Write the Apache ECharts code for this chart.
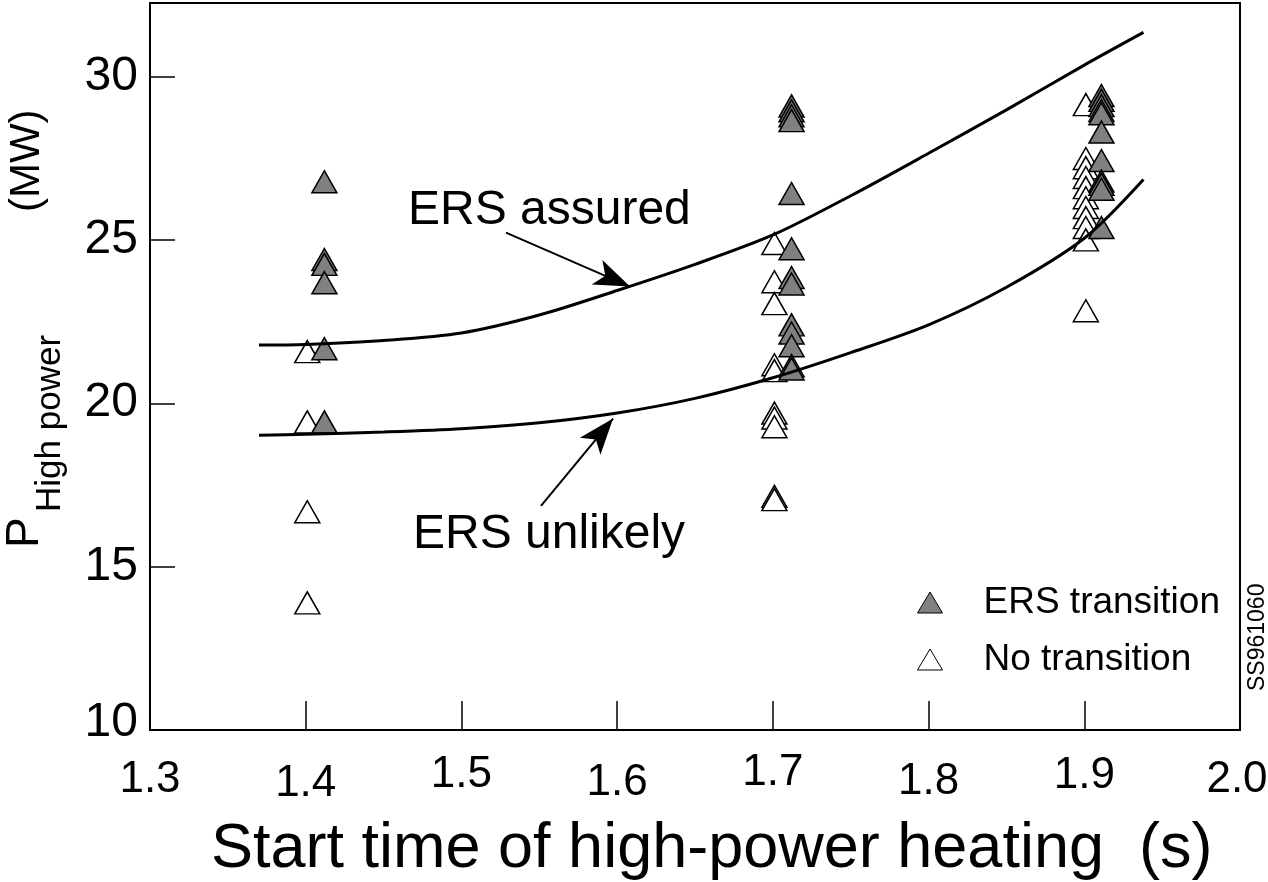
<!DOCTYPE html>
<html>
<head>
<meta charset="utf-8">
<script src="https://cdn.jsdelivr.net/npm/echarts@6/dist/echarts.min.js"></script>
<style>
html,body{margin:0;padding:0;background:#fff;}
#c{width:1268px;height:882px;}
</style>
</head>
<body>
<div id="c"></div>
<script>
// ---- data ----
const xTicks = [1.3, 1.4, 1.5, 1.6, 1.7, 1.8, 1.9, 2.0];
const yTicks = [10, 15, 20, 25, 30];

// ERS transition (filled triangles): [start time, power]
const transitionX = [1.412,1.412,1.412,1.412,1.412,1.412,
  1.712,1.712,1.712,1.712,1.712,1.712,1.712,1.712,1.712,1.712,1.712,1.712,1.712,
  1.911,1.911,1.911,1.911,1.911,1.911,1.911,1.911,1.911,1.911,1.911];
const transitionY = [26.78,24.40,24.25,23.69,21.67,19.43,
  29.1,28.95,28.8,28.65,26.42,24.73,23.85,23.65,22.4,22.15,21.76,21.15,21.05,
  29.42,29.27,29.11,28.96,28.86,28.3,27.43,26.8,26.7,26.55,25.38];

// No transition (open triangles)
const noTransX = [1.401,1.401,1.401,1.401,
  1.701,1.701,1.701,1.701,1.701,1.701,1.701,1.701,1.701,1.701,
  1.901,1.901,1.901,1.901,1.901,1.901,1.901,1.901,1.901,1.901,1.901];
const noTransY = [21.58,19.43,16.68,13.89,
  24.89,23.72,23.05,21.18,21.0,19.7,19.55,19.28,17.15,17.05,
  29.14,27.49,27.21,26.91,26.6,26.29,25.99,25.68,25.38,25.0,22.83];

// boundary curves
const curveX = [1.37, 1.40, 1.45, 1.50, 1.55, 1.60, 1.65, 1.70, 1.75, 1.80, 1.85, 1.90, 1.938];
const assuredY = [21.78, 21.80, 21.92, 22.15, 22.70, 23.45, 24.25, 25.15, 26.35, 27.65, 28.98, 30.35, 31.35];
const unlikelyY = [19.02, 19.05, 19.12, 19.22, 19.40, 19.70, 20.15, 20.78, 21.55, 22.40, 23.55, 25.05, 26.85];

// annotation arrows (data coords): [fromX, fromY, toX, toY]
const assuredArrow = [1.5286, 25.22, 1.6083, 23.57];
const unlikelyArrow = [1.5511, 16.86, 1.5974, 19.53];

const zip = (a, b) => a.map((v, i) => [v, b[i]]);

const FONT = 'Liberation Sans, Arial, Helvetica, sans-serif';
const chart = echarts.init(document.getElementById('c'), null, {renderer: 'canvas'});

// slight vertical jitter of the printed x tick labels (as typeset in the original)
const xLabelDrop = [8, 12, 3, 11, 1, 10, 4, 8];
const xRich = {};
xLabelDrop.forEach((d, i) => {
  xRich['t' + i] = {fontSize: 44, fontFamily: FONT, color: '#000', padding: [d, i === xLabelDrop.length - 1 ? 6 : 0, 0, 0]};
});

const arrowLine = (arr) => ({
  silent: true,
  symbol: ['none', 'arrow'],
  symbolSize: [20, 36],
  label: {show: false},
  lineStyle: {color: '#000', width: 2, type: 'solid'},
  data: [[{coord: [arr[0], arr[1]]}, {coord: [arr[2], arr[3]]}]]
});

chart.setOption({
  animation: false,
  backgroundColor: '#fff',
  grid: {left: 150, right: 28, top: 3, bottom: 152, containLabel: false, outerBoundsMode: 'none',
    show: true, borderColor: '#000', borderWidth: 2, backgroundColor: 'transparent'},
  xAxis: {
    type: 'value', min: xTicks[0], max: xTicks[xTicks.length - 1], interval: 0.1,
    axisLine: {show: true, lineStyle: {color: '#000', width: 2}},
    axisTick: {show: true, inside: true, length: 29, lineStyle: {color: '#000', width: 1.5}},
    splitLine: {show: false},
    axisLabel: {color: '#000', fontSize: 44, fontFamily: FONT, margin: 20, rich: xRich,
      formatter: v => {
        const i = Math.round((v - xTicks[0]) * 10);
        return '{t' + i + '|' + v.toFixed(1) + '}';
      }}
  },
  yAxis: {
    type: 'value', min: yTicks[0], max: 32.25, interval: 5,
    axisLine: {show: true, lineStyle: {color: '#000', width: 2}},
    axisTick: {show: true, inside: true, length: 25, lineStyle: {color: '#000', width: 1.5}},
    splitLine: {show: false},
    axisLabel: {color: '#000', fontSize: 48, fontFamily: FONT, margin: 12, showMaxLabel: false,
      rich: {low: {fontSize: 48, fontFamily: FONT, color: '#000', padding: [0, 0, 14, 0]}},
      formatter: v => (yTicks.indexOf(v) < 0 ? '' : (v === yTicks[0] ? '{low|' + v + '}' : String(v)))}
  },
  legend: {
    orient: 'vertical', left: 912, top: 579, itemGap: 20,
    itemWidth: 25, itemHeight: 21,
    textStyle: {fontSize: 37, fontFamily: FONT, color: '#000', padding: [0, 0, 0, 36]},
    data: [
      {name: 'ERS transition', icon: 'triangle', itemStyle: {color: '#808080', borderColor: '#000', borderWidth: 1}},
      {name: 'No transition', icon: 'triangle', itemStyle: {color: '#fff', borderColor: '#000', borderWidth: 1}}
    ]
  },
  series: [
    {
      name: 'No transition', type: 'scatter', symbol: 'triangle', symbolSize: [25, 22],
      itemStyle: {color: '#fff', borderColor: '#000', borderWidth: 1.5, opacity: 1},
      data: zip(noTransX, noTransY), z: 2
    },
    {
      name: 'ERS transition', type: 'scatter', symbol: 'triangle', symbolSize: [25, 22],
      itemStyle: {color: '#808080', borderColor: '#000', borderWidth: 1.5, opacity: 1},
      data: zip(transitionX, transitionY), z: 3
    },
    {
      name: 'ERS assured', type: 'line', smooth: 0.3, showSymbol: false, symbol: 'none',
      lineStyle: {color: '#000', width: 3}, data: zip(curveX, assuredY), z: 4,
      markLine: arrowLine(assuredArrow)
    },
    {
      name: 'ERS unlikely', type: 'line', smooth: 0.3, showSymbol: false, symbol: 'none',
      lineStyle: {color: '#000', width: 3}, data: zip(curveX, unlikelyY), z: 4,
      markLine: arrowLine(unlikelyArrow)
    }
  ],
  graphic: [
    {type: 'text', left: 408, top: 187, style: {text: 'ERS assured', font: '48px ' + FONT, fill: '#000'}},
    {type: 'text', left: 413, top: 511, style: {text: 'ERS unlikely', font: '48px ' + FONT, fill: '#000'}},
    {type: 'text', left: 211, top: 818, style: {text: 'Start time of high-power heating  (s)', font: '63px ' + FONT, fill: '#000'}},
    {type: 'group', x: 48, y: 548, rotation: Math.PI / 2, children: [
      {type: 'text', x: 0, y: 0, style: {text: 'P', font: '46px ' + FONT, fill: '#000', textVerticalAlign: 'bottom'}},
      {type: 'text', x: 36, y: 20, style: {text: 'High power', font: '35px ' + FONT, fill: '#000', textVerticalAlign: 'bottom'}},
      {type: 'text', x: 336, y: 0, style: {text: '(MW)', font: '42px ' + FONT, fill: '#000', textVerticalAlign: 'bottom'}}
    ]},
    {type: 'text', x: 1269, y: 691, rotation: Math.PI / 2, style: {text: 'SS961060', font: '23px ' + FONT, fill: '#000', textVerticalAlign: 'bottom'}}
  ]
});
</script>
</body>
</html>
